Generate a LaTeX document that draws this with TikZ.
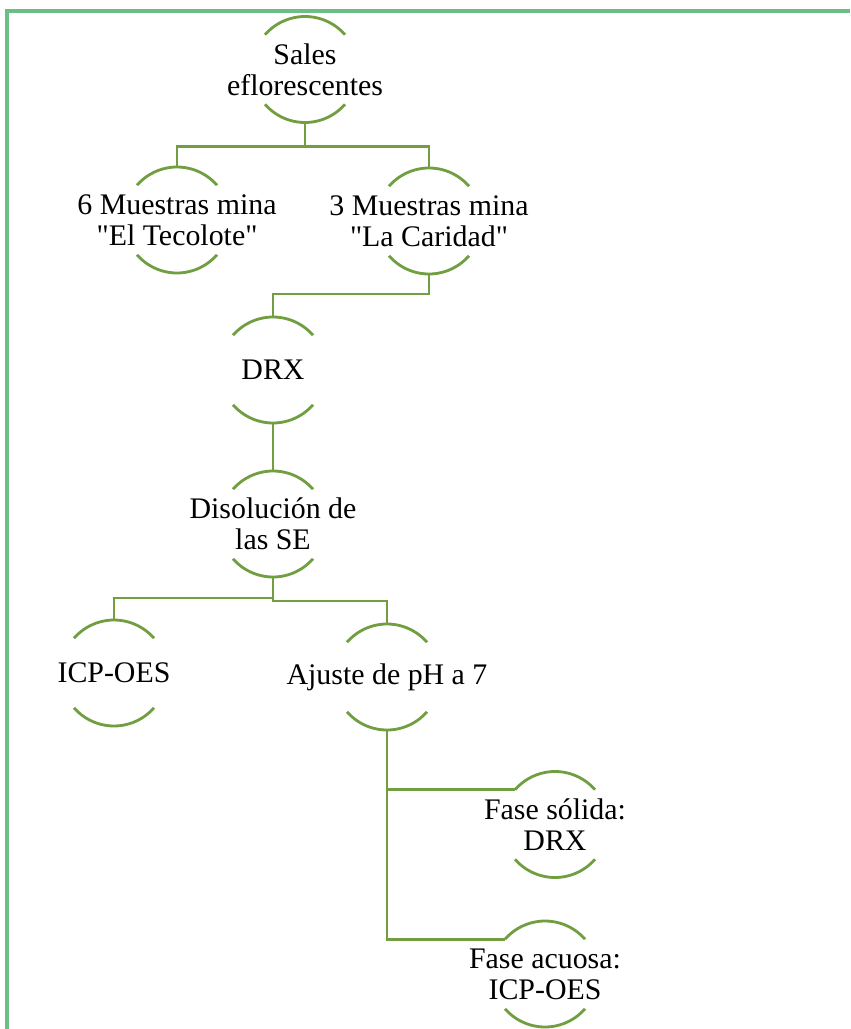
\documentclass[tikz,border=0pt]{standalone}
\usepackage{fontspec}
\setmainfont{Liberation Serif}
\usepackage{xcolor}
\usepackage{tikz}
\usetikzlibrary{positioning}
\usetikzlibrary{calc}

\definecolor{framegreen}{RGB}{108,190,132}
\definecolor{arcgreen}{RGB}{112,158,64}

\tikzset{
  txt/.style={align=center,inner sep=0pt,font=\rmfamily\fontsize{17}{17.5}\selectfont},
  ring/.style={circle,minimum size=2.12cm,inner sep=0pt,outer sep=0pt},
  halo/.style={label={[txt]center:{#1}}}
}

\begin{document}
\begin{tikzpicture}
			\useasboundingbox (0,0) rectangle (17,-20.58);
			% frame
			\draw[framegreen,line width=2.6pt] (0.14,-20.58) -- (0.14,-0.22) -- (17,-0.22);
			\begin{scope}[every node/.style={ring}]
		    \node[halo={Sales\\eflorescentes}] (sales) at (6.10,-1.39) {};
		    \node[halo={6 Muestras mina\\\textquotedbl El Tecolote\textquotedbl}] (tec) at (3.54,-4.40) {};
		    \node[halo={3 Muestras mina\\\textquotedbl La Caridad\textquotedbl}] (car) at (8.58,-4.42) {};
		    \node[halo={DRX}] (drx) at (5.46,-7.40) {};
		    \node[halo={Disolución de\\las SE}] (dis) at (5.46,-10.48) {};
		    \node[halo={ICP-OES}] (icp) at (2.28,-13.46) {};
		    \node[halo={Ajuste de pH a 7}] (aju) at (7.74,-13.54) {};
		    \node[halo={Fase sólida:\\DRX}] (sol) at (11.10,-16.49) {};
		    \node[halo={Fase acuosa:\\ICP-OES}] (acu) at (10.90,-19.48) {};
			\end{scope}
			% arcs
			\foreach \n in {sales,tec,car,drx,dis,icp,aju,sol,acu} {
		    \draw[arcgreen,line width=1.6pt] (\n.41) arc[start angle=41,end angle=139,radius=1.06cm];
		    \draw[arcgreen,line width=1.6pt] (\n.221) arc[start angle=221,end angle=319,radius=1.06cm];
			}
			\begin{scope}[arcgreen,line width=1.6pt]
		    \draw (sales.south) -- ++(0,-0.48) -| (tec.north);
		    \draw (sales.south) -- ++(0,-0.48) -| (car.north);
		    \draw (car.south) -- ++(0,-0.40) -| (drx.north);
		    \draw (drx.south) -- (dis.north);
		    \draw (dis.south) -- ++(0,-0.42) -| (icp.north);
		    \draw (dis.south) -- ++(0,-0.48) -| (aju.north);
		    \draw (aju.south) |- (sol.139);
		    \draw (aju.south) |- (acu.139);
	    \end{scope}
    \end{tikzpicture}
\end{document}
